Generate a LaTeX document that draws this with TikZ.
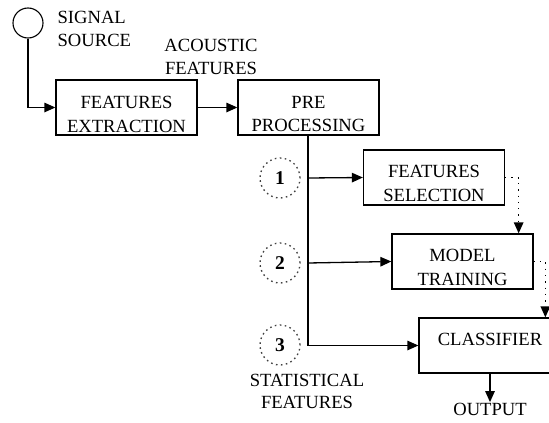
\documentclass[tikz,border=0pt]{standalone}
\usepackage{fontspec}
\setmainfont{Liberation Serif}
\usetikzlibrary{arrows.meta,calc}
\begin{document}
\begin{tikzpicture}[x=1pt,y=-1pt,
  font=\fontsize{18.6}{22.5}\selectfont,
  line width=1.3pt,
  box/.style={draw,rectangle,minimum width=141pt,minimum height=55pt,inner sep=0pt},
  btxt/.style={inner sep=0pt,align=center,font=\fontsize{18.6}{24}\selectfont},
  lbl/.style={inner sep=0pt,align=center},
  num/.style={draw=black!75,dash pattern=on 1.6pt off 3.4pt,circle,minimum size=40pt,inner sep=0pt,font=\fontsize{19.5}{22.5}\selectfont\bfseries},
  arr/.style={-{Triangle[length=11pt,width=9.5pt]}},
  dot/.style={dash pattern=on 1.3pt off 5pt,line width=1.3pt}
]
\clip (0,0) rectangle (549,423);
\useasboundingbox (0,0) rectangle (549,423);
\node[draw,circle,minimum size=30pt,inner sep=0pt,line width=1.1pt] (sig) at (28,23) {};
\node[lbl,align=left,anchor=west] (sigl) at (57,29) {SIGNAL\\SOURCE};
\node[lbl] (ac) at (211,57) {ACOUSTIC\\FEATURES};
\node[box] (fe) at (126.5,107.5) {};
\node[btxt] (fet) at (126.5,114) {FEATURES\\EXTRACTION};
\node[box] (pp) at (308.5,107.5) {};
\node[btxt] (ppt) at (308.5,114) {PRE\\PROCESSING};
\node[box] (fs) at (434,177.5) {};
\node[btxt] (fst) at (434,183) {FEATURES\\SELECTION};
\node[box] (mt) at (462.5,261.5) {};
\node[btxt] (mtt) at (462.5,267.5) {MODEL\\TRAINING};
\node[box] (cl) at (489.5,345.5) {};
\node[lbl] (clt) at (490,339) {CLASSIFIER};
\node[num] (n1) at (280,178) {1};
\node[num] (n2) at (280,263) {2};
\node[num] (n3) at (280,345) {3};
\node[lbl] (st) at (307,391.5) {STATISTICAL\\FEATURES};
\node[lbl] (out) at (490,409) {OUTPUT};
\coordinate (j1) at (308,178);
\coordinate (j2) at (308,263);
\draw[arr] (sig.south) |- (fe.west);
\draw[arr] (fe.east) -- (pp.west);
\draw[arr] (pp.south -| j1) |- (cl.west);
\draw[arr] (j1) -- (fs.west);
\draw[arr] (j2) -- (mt.west);
\draw[arr] (cl.south -| out.north) -- (out.north);
\draw[dot] (fs.east) -| ($(mt.north east)+(-15,-4)$);
\draw[arr] ($(mt.north east)+(-15,-5)$) -- ($(mt.north east)+(-15,0)$);
\draw[dot] (mt.east) -| ($(cl.north west)+(127,-4)$);
\draw[arr] ($(cl.north west)+(127,-5)$) -- ($(cl.north west)+(127,0)$);
\end{tikzpicture}
\end{document}
